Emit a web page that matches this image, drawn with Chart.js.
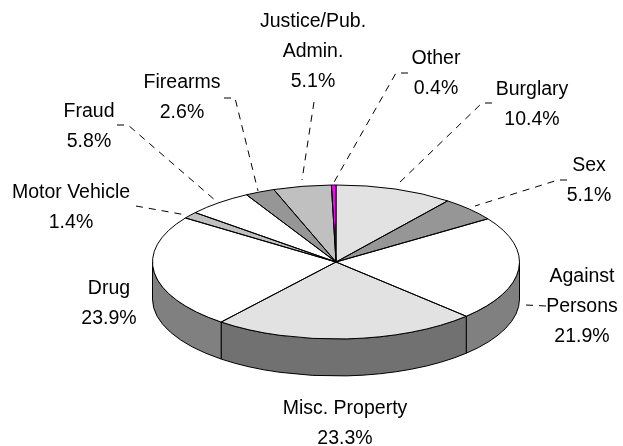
<!DOCTYPE html>
<html><head><meta charset="utf-8">
<style>html,body{margin:0;padding:0;background:#fff}canvas{display:block}</style>
<script src="https://cdn.jsdelivr.net/npm/chart.js@4"></script>
</head><body><canvas id="c" width="623" height="446"></canvas>
<script>
const categories = ["Burglary","Sex","Against Persons","Misc. Property","Drug","Motor Vehicle","Fraud","Firearms","Justice/Pub. Admin.","Other"];
const shares = [10.4,5.1,21.9,23.3,23.9,1.4,5.8,2.6,5.1,0.4];
const topColors = ["#e2e2e2","#969696","#ffffff","#e2e2e2","#ffffff","#c0c0c0","#ffffff","#969696","#c0c0c0","#ff00ff"];
const wallColors = ["#717171","#4b4b4b","#808080","#717171","#808080","#606060","#808080","#4b4b4b","#606060","#800080"];
const labelLines = [["Burglary"],["Sex"],["Against","Persons"],["Misc. Property"],["Drug"],["Motor Vehicle"],["Fraud"],["Firearms"],["Justice/Pub.","Admin."],["Other"]];
const labelAnchors = [[532,88],[589,164],[582,275],[345,407],[109,287],[71,191],[89,110],[182,81],[313,20],[436,57]];
const leaders = [
 [[492,103],[482,103],[398,184]],
 [[567,180],[558,180],[475,206]],
 [[546,306],[526,305]],
 null,null,
 [[136,206],[186,215]],
 [[117,125],[128,125],[216,201]],
 [[224,98],[235,98],[258,191]],
 [[314,102],[302,180]],
 [[408,73],[396,73],[333,184]]
];
const cx=336, cy=262, rx=183.5, ry=77, depth=37;
const lineHeight=30, fontCss='19.5px "Liberation Sans"';

function squash(ctx,a){ ctx.translate(cx,cy); ctx.scale(rx/a.outerRadius,ry/a.outerRadius); ctx.translate(-a.x,-a.y); }

const pie3d = {
 id:'pie3d',
 beforeDatasetsDraw(chart){
  const ctx=chart.ctx, arcs=chart.getDatasetMeta(0).data;
  arcs.forEach((el,i)=>{
   const a=el.getProps(['x','y','startAngle','endAngle','outerRadius'],true);
   const s=Math.max(a.startAngle,0), e=Math.min(a.endAngle,Math.PI);
   const s2=a.startAngle-2*Math.PI, e2=a.endAngle-2*Math.PI;
   const ss=Math.max(s2,0), ee=Math.min(e2,Math.PI);
   const from = e>s? s : ss, to = e>s? e : ee;
   if(!(to>from)) return;
   ctx.beginPath();
   ctx.ellipse(cx,cy,rx,ry,0,from,to,false);
   ctx.lineTo(cx+rx*Math.cos(to),cy+ry*Math.sin(to)+depth);
   ctx.ellipse(cx,cy+depth,rx,ry,0,to,from,true);
   ctx.closePath();
   ctx.fillStyle=wallColors[i]; ctx.fill();
   ctx.strokeStyle='#000'; ctx.lineWidth=1; ctx.stroke();
  });
 },
 beforeDatasetDraw(chart){
  const ctx=chart.ctx, a=chart.getDatasetMeta(0).data[0];
  ctx.save(); squash(ctx,a);
 },
 afterDatasetDraw(chart){
  const ctx=chart.ctx; ctx.restore();
 },
 afterDatasetsDraw(chart){
  const ctx=chart.ctx, arcs=chart.getDatasetMeta(0).data;
  ctx.strokeStyle='#000'; ctx.lineWidth=1;
  arcs.forEach(el=>{
   const a=el.getProps(['startAngle','endAngle'],true);
   ctx.beginPath();
   ctx.moveTo(cx,cy);
   ctx.ellipse(cx,cy,rx,ry,0,a.startAngle,a.endAngle,false);
   ctx.closePath(); ctx.stroke();
  });
  ctx.save();
  ctx.setLineDash([7,6]); ctx.lineWidth=1; ctx.strokeStyle='#000';
  leaders.forEach(p=>{ if(!p) return; ctx.beginPath(); p.forEach((q,k)=>k?ctx.lineTo(q[0],q[1]):ctx.moveTo(q[0],q[1])); ctx.stroke(); });
  ctx.restore();
  ctx.fillStyle='#000'; ctx.font=fontCss; ctx.textAlign='center'; ctx.textBaseline='middle';
  categories.forEach((c,i)=>{
   const lines=[...labelLines[i], shares[i].toFixed(1)+'%'];
   lines.forEach((t,k)=>ctx.fillText(t,labelAnchors[i][0],labelAnchors[i][1]+2+k*lineHeight));
  });
 }
};

new Chart(document.getElementById('c'),{
 type:'pie',
 data:{labels:categories,datasets:[{data:shares,backgroundColor:topColors,borderWidth:0}]},
 options:{responsive:false,animation:false,rotation:0,
  plugins:{legend:{display:false},tooltip:{enabled:false},title:{display:false}}},
 plugins:[pie3d]
});
</script></body></html>
